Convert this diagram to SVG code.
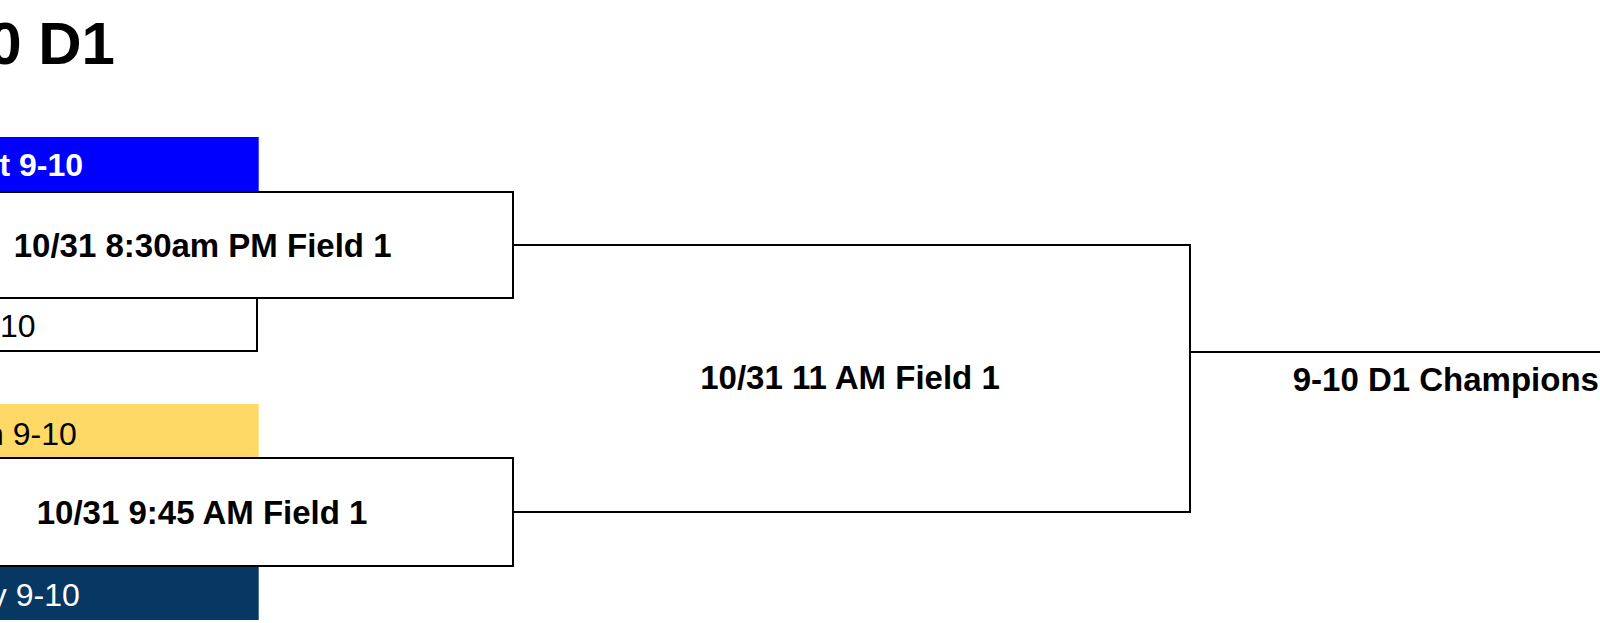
<svg xmlns="http://www.w3.org/2000/svg" width="1600" height="623" viewBox="0 0 1600 623">
<style>
  .t { font-family: "Liberation Sans", Arial, sans-serif; }
  .b { font-weight: bold; }
  .box { fill: #ffffff; stroke: #000000; stroke-width: 2; }
  .line { fill: none; stroke: #000000; stroke-width: 2; }
</style>
<rect x="0" y="0" width="1600" height="623" fill="#ffffff"/>
<g id="title">
  <text class="t b" x="-11.8" y="64.3" font-size="60" fill="#000000">0 D1</text>
</g>
<g id="connectors">
  <path class="line" d="M513 245 H1190 V512 H513"/>
  <path class="line" d="M1190 352 H1600"/>
</g>
<g id="team1">
  <rect x="-10" y="137" width="268.7" height="55" fill="#0000ff"/>
  <text class="t b" x="-0.5" y="176" font-size="32" fill="#ffffff">t 9-10</text>
</g>
<g id="team2">
  <rect class="box" x="-10" y="298" width="267" height="53"/>
  <text class="t" x="0" y="337" font-size="32" fill="#000000">10</text>
</g>
<g id="team3">
  <rect x="-10" y="404" width="268.7" height="54" fill="#ffd966"/>
  <text class="t" x="-14" y="445" font-size="32" fill="#000000">n 9-10</text>
</g>
<g id="team4">
  <rect x="-10" y="566" width="268.7" height="54" fill="#073763"/>
  <text class="t" x="-9.2" y="606" font-size="32" fill="#ffffff">y 9-10</text>
</g>
<g id="game1">
  <rect class="box" x="-110" y="192" width="623" height="106"/>
  <text class="t b" x="13.7" y="257.3" font-size="33" fill="#000000">10/31 8:30am PM Field 1</text>
</g>
<g id="game2">
  <rect class="box" x="-110" y="458" width="623" height="108"/>
  <text class="t b" x="36.7" y="524.3" font-size="33" fill="#000000">10/31 9:45 AM Field 1</text>
</g>
<g id="game3">
  <text class="t b" x="850" y="389" font-size="33" fill="#000000" text-anchor="middle">10/31 11 AM Field 1</text>
</g>
<g id="champion">
  <text class="t b" x="1292.7" y="391" font-size="33" fill="#000000">9-10 D1 Champions</text>
</g>
</svg>
